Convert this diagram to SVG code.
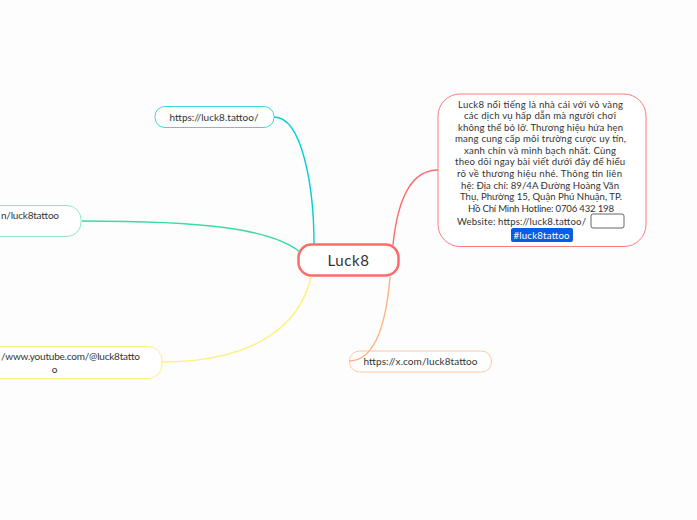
<svg xmlns="http://www.w3.org/2000/svg" width="697" height="520" viewBox="0 0 697 520">
<style>
text{font-family:"Lato","Noto Sans",sans-serif;fill:#333;text-anchor:middle}
.s{font-size:10px}
.b{font-size:9.6px}
.c{fill:none;stroke-width:1.4}
.n{fill:#fff;stroke-width:1}
</style>
<rect width="697" height="520" fill="#fdfdfd"/>
<g id="node-root">
<rect x="298.500" y="244.500" width="100" height="31" rx="13" fill="#fff" stroke="#ff6b6b" stroke-width="2.500"/>
<text x="348.500" y="266" font-size="15" letter-spacing=".6">Luck8</text>
</g>
<g id="node-desc">
<rect class="n" x="438" y="94" width="208" height="152.500" rx="22" stroke="#ff7b7b"/>
<text class="b" x="540.500" y="107.500" textLength="165">Luck8 nổi tiếng là nhà cái với vô vàng</text>
<text class="b" x="540" y="119" textLength="152">các dịch vụ hấp dẫn mà người chơi</text>
<text class="b" x="540.500" y="130.500" textLength="165">không thể bỏ lỡ. Thương hiệu hứa hẹn</text>
<text class="b" x="540.500" y="142" textLength="171">mang cung cấp môi trường cược uy tín,</text>
<text class="b" x="540" y="153.500" textLength="152">xanh chín và minh bạch nhất. Cùng</text>
<text class="b" x="540" y="165" textLength="170">theo dõi ngay bài viết dưới đây để hiểu</text>
<text class="b" x="539.500" y="176.500" textLength="165">rõ về thương hiệu nhé. Thông tin liên</text>
<text class="b" x="540" y="188.500" textLength="158">hệ: Địa chỉ: 89/4A Đường Hoàng Văn</text>
<text class="b" x="541" y="200" textLength="162">Thụ, Phường 15, Quận Phú Nhuận, TP.</text>
<text class="b" x="541" y="211.500" textLength="146">Hồ Chí Minh Hotline: 0706 432 198</text>
<text class="b" x="521.500" y="224.500" textLength="129">Website: https://luck8.tattoo/</text>
<rect x="591" y="214" width="33" height="14" rx="2" fill="#fff" stroke="#666"/>
<rect x="511" y="228" width="62" height="14" rx="2" fill="#0a5ce8"/>
<text class="b" x="541.500" y="238.500" textLength="56" style="fill:#fff">#luck8tattoo</text>
</g>
<g id="node-site">
<rect class="n" x="155" y="106.500" width="119" height="21" rx="10" stroke="#3fd6e0"/>
<text class="s" x="214" y="120.500" textLength="89">https://luck8.tattoo/</text>
</g>
<g id="node-fb">
<rect class="n" x="-60" y="205.500" width="141" height="31" rx="14" stroke="#8be8cd"/>
<text class="s" x="30" y="219" textLength="58">n/luck8tattoo</text>
</g>
<g id="node-yt">
<rect class="n" x="-60" y="346.500" width="222" height="32" rx="14" stroke="#fff07a"/>
<text class="s" x="70.500" y="360" textLength="139">/www.youtube.com/@luck8tatto</text>
<text class="s" x="54.500" y="373">o</text>
</g>
<g id="node-x">
<rect class="n" x="349.500" y="351" width="142" height="21" rx="10" stroke="#ffc7a3"/>
<text class="s" x="420.500" y="365" textLength="114">https://x.com/luck8tattoo</text>
</g>
<g id="connectors">
<path class="c" stroke="#ff6b6b" d="M393 245C397 205 408 170 438 170"/>
<path class="c" stroke="#00cedb" d="M314 244C314 190 303 117 274 117"/>
<path class="c" stroke="#3bdba9" d="M300 252C270 228 200 221 82 221"/>
<path class="c" stroke="#fff07a" d="M311 277C300 325 255 362 162 362"/>
<path class="c" stroke="#ffb27f" d="M390 277C386 325 375 361 349 361"/>
</g>
</svg>
